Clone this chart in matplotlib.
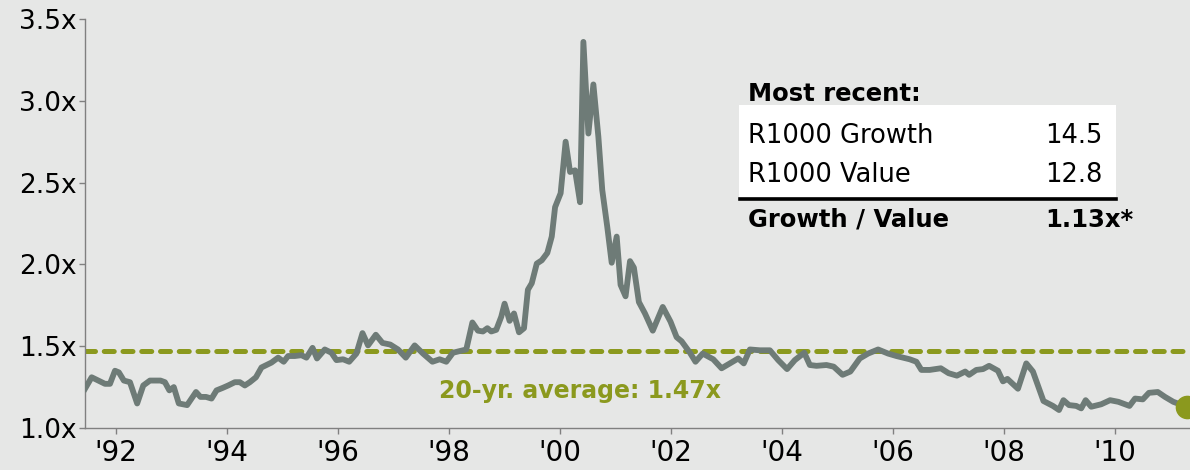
import matplotlib
matplotlib.use("Agg")
import matplotlib.pyplot as plt
from matplotlib.patches import Rectangle
from matplotlib.lines import Line2D

# growth / value forward P/E ratio
years = [1991.45, 1991.57, 1991.69, 1991.81, 1991.90, 1991.99, 1992.06, 1992.15,
         1992.26, 1992.39, 1992.50, 1992.62, 1992.71, 1992.81, 1992.89, 1992.97,
         1993.05, 1993.14, 1993.29, 1993.45, 1993.53, 1993.63, 1993.73, 1993.82,
         1993.93, 1994.03, 1994.15, 1994.24, 1994.33, 1994.42, 1994.53, 1994.63,
         1994.81, 1994.93, 1995.03, 1995.11, 1995.23, 1995.35, 1995.44, 1995.55,
         1995.63, 1995.77, 1995.89, 1995.98, 1996.10, 1996.21, 1996.34, 1996.45,
         1996.55, 1996.69, 1996.81, 1996.95, 1997.09, 1997.23, 1997.39, 1997.54,
         1997.71, 1997.84, 1997.96, 1998.08, 1998.20, 1998.32, 1998.43, 1998.53,
         1998.62, 1998.70, 1998.77, 1998.86, 1998.95, 1999.01, 1999.10, 1999.18,
         1999.27, 1999.36, 1999.43, 1999.50, 1999.59, 1999.68, 1999.78, 1999.86,
         1999.92, 2000.02, 2000.11, 2000.19, 2000.28, 2000.37, 2000.43, 2000.52,
         2000.61, 2000.70, 2000.77, 2000.86, 2000.94, 2001.03, 2001.10, 2001.19,
         2001.27, 2001.34, 2001.43, 2001.54, 2001.68, 2001.86, 2002.00, 2002.11,
         2002.20, 2002.35, 2002.45, 2002.58, 2002.77, 2002.92, 2003.07, 2003.22,
         2003.32, 2003.43, 2003.61, 2003.79, 2003.94, 2004.10, 2004.24, 2004.41,
         2004.51, 2004.63, 2004.81, 2004.94, 2005.10, 2005.24, 2005.41, 2005.56,
         2005.74, 2005.92, 2006.07, 2006.31, 2006.43, 2006.52, 2006.67, 2006.87,
         2007.01, 2007.16, 2007.31, 2007.38, 2007.51, 2007.63, 2007.74, 2007.90,
         2007.99, 2008.07, 2008.26, 2008.41, 2008.53, 2008.72, 2008.89, 2009.00,
         2009.08, 2009.18, 2009.31, 2009.40, 2009.48, 2009.58, 2009.76, 2009.92,
         2010.07, 2010.27, 2010.37, 2010.51, 2010.62, 2010.78, 2010.91, 2011.06,
         2011.30]
ratio = [1.24, 1.31, 1.29, 1.27, 1.27, 1.35, 1.34, 1.29,
         1.28, 1.15, 1.26, 1.29, 1.29, 1.29, 1.28, 1.23,
         1.25, 1.15, 1.14, 1.22, 1.19, 1.19, 1.18, 1.23,
         1.245, 1.26, 1.28, 1.28, 1.26, 1.28, 1.31, 1.37,
         1.40, 1.43, 1.405, 1.44, 1.44, 1.445, 1.43, 1.49,
         1.425, 1.48, 1.46, 1.415, 1.42, 1.405, 1.455, 1.58,
         1.505, 1.57, 1.52, 1.51, 1.48, 1.43, 1.505, 1.455,
         1.405, 1.42, 1.405, 1.46, 1.47, 1.48, 1.645, 1.595,
         1.59, 1.61, 1.59, 1.60, 1.68, 1.76, 1.655, 1.70,
         1.585, 1.61, 1.845, 1.885, 2.005, 2.025, 2.07, 2.17,
         2.35, 2.435, 2.75, 2.565, 2.575, 2.38, 3.36, 2.80,
         3.10, 2.78, 2.455, 2.23, 2.01, 2.17, 1.875, 1.805,
         2.02, 1.98, 1.77, 1.70, 1.595, 1.74, 1.65, 1.555,
         1.53, 1.46, 1.405, 1.455, 1.42, 1.365, 1.395, 1.425,
         1.395, 1.48, 1.475, 1.475, 1.415, 1.36, 1.415, 1.46,
         1.385, 1.38, 1.385, 1.375, 1.325, 1.345, 1.425, 1.455,
         1.48, 1.455, 1.44, 1.42, 1.405, 1.355, 1.355, 1.365,
         1.335, 1.32, 1.345, 1.325, 1.355, 1.36, 1.38, 1.35,
         1.285, 1.30, 1.24, 1.395, 1.345, 1.165, 1.135, 1.11,
         1.17, 1.14, 1.135, 1.12, 1.17, 1.13, 1.145, 1.17,
         1.16, 1.135, 1.18, 1.175, 1.215, 1.22, 1.19, 1.16,
         1.13]

avg_20yr = 1.47
yticks = [1.0, 1.5, 2.0, 2.5, 3.0, 3.5]
xticks = [1992, 1994, 1996, 1998, 2000, 2002, 2004, 2006, 2008, 2010]
xtick_labels = ["'92", "'94", "'96", "'98", "'00", "'02", "'04", "'06", "'08", "'10"]

table_title = "Most recent:"
table_rows = ["R1000 Growth", "R1000 Value"]
table_vals = ["14.5", "12.8"]
total_label = "Growth / Value"
total_val = "1.13x*"

bg = "#e6e7e6"
line_col = "#6e7b77"
olive = "#8b991e"
W, H = 1190, 470


def px(x, y):
    # pixel position (from top-left) -> figure fraction
    return x / W, 1 - y / H


fig = plt.figure(figsize=(W / 100, H / 100), dpi=100, facecolor=bg)
ax = fig.add_axes([85 / W, 1 - 428 / H, 1 - 85 / W, (428 - 19) / H])
ax.set_facecolor(bg)

ax.plot(years, ratio, color=line_col, lw=4.2, solid_joinstyle="round", zorder=3)
ax.axhline(avg_20yr, color=olive, lw=3.6, linestyle=(0, (2, 1.75)),
           dash_capstyle="round", zorder=2)
ax.plot(years[-1], ratio[-1], "o", color=olive, ms=16, zorder=4)

ax.text(2000.37, 1.183, "20-yr. average: %.2fx" % avg_20yr, color=olive,
        fontsize=17, fontweight="bold", ha="center", va="baseline")

ax.set_xlim(1991.45, 2011.36)
ax.set_ylim(1.0, 3.5)
ax.set_yticks(yticks)
ax.set_yticklabels(["%.1fx" % v for v in yticks])
ax.set_xticks(xticks)
ax.set_xticklabels(xtick_labels)

for side in ["top", "right"]:
    ax.spines[side].set_visible(False)
for side in ["left", "bottom"]:
    ax.spines[side].set_color("#808080")
    ax.spines[side].set_linewidth(1.0)
ax.tick_params(axis="both", direction="out", length=4, width=1.0,
               colors="#808080", labelcolor="black")
ax.tick_params(axis="y", labelsize=19, pad=2)
ax.tick_params(axis="x", labelsize=20, pad=4)

# "most recent" inset table
x0, y0 = px(739, 197)
x1, y1 = px(1116, 105)
fig.add_artist(Rectangle((x0, y0), x1 - x0, y1 - y0, transform=fig.transFigure,
                         facecolor="white", edgecolor="none", zorder=5))
lx0, ly = px(740, 198.5)
lx1, _ = px(1116, 198.5)
fig.add_artist(Line2D([lx0, lx1], [ly, ly], transform=fig.transFigure,
                      color="black", lw=2.6, zorder=6))

fig.text(*px(748, 101), table_title, fontsize=17.5, fontweight="bold",
         va="baseline", zorder=7)
for i, (name, val) in enumerate(zip(table_rows, table_vals)):
    yb = 142.7 + i * 39
    fig.text(*px(748, yb), name, fontsize=18.5, va="baseline", zorder=7)
    fig.text(*px(1045, yb), val, fontsize=18.5, va="baseline", zorder=7)
fig.text(*px(748, 226.7), total_label, fontsize=17.5, fontweight="bold",
         va="baseline", zorder=7)
fig.text(*px(1045, 226.7), total_val, fontsize=17.5, fontweight="bold",
         va="baseline", zorder=7)

fig.savefig("out.png", dpi=100, facecolor=bg)
